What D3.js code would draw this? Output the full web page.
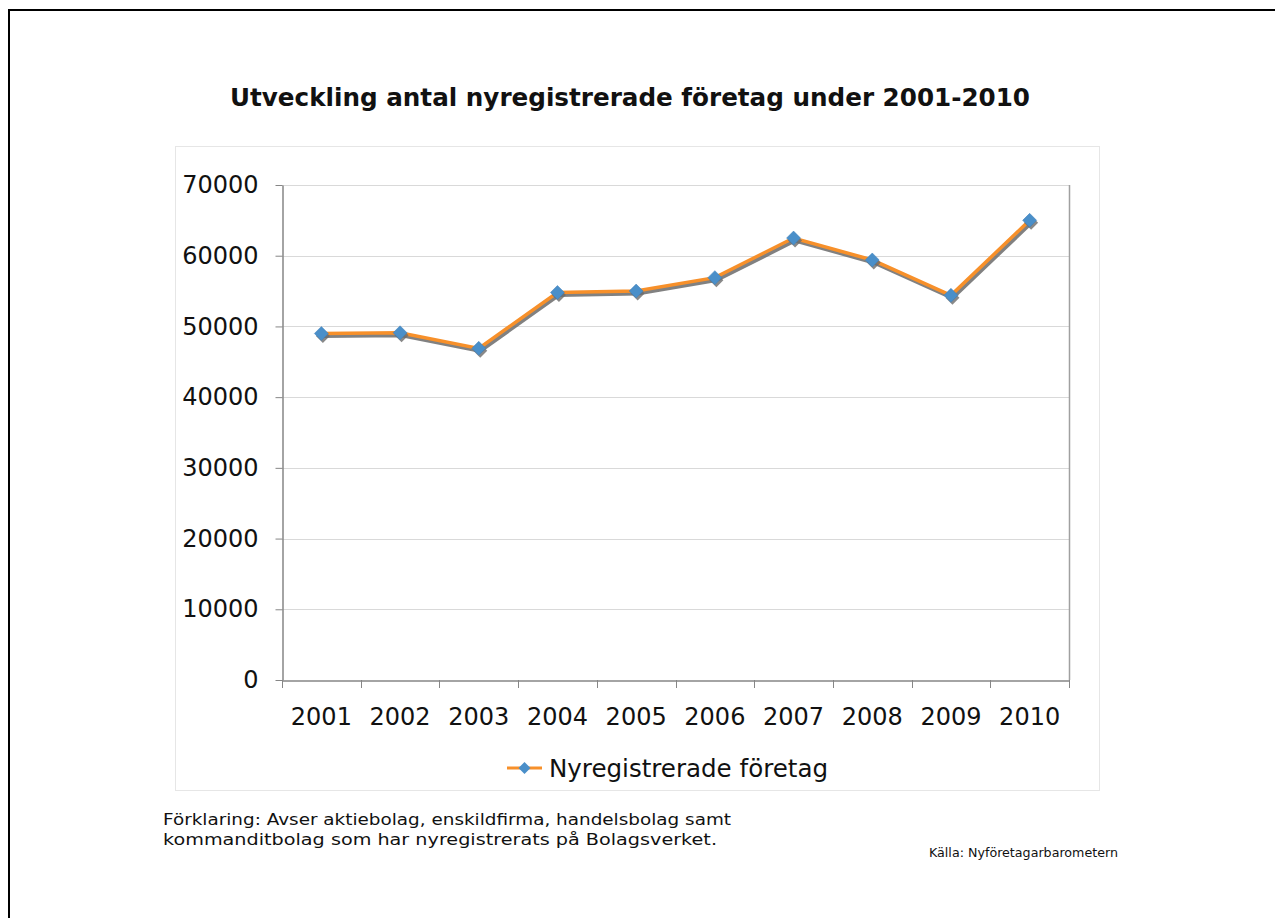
<!DOCTYPE html>
<html><head><meta charset="utf-8">
<script src="https://cdn.jsdelivr.net/npm/d3@7"></script>
<style>body{margin:0;background:#fff;}svg{display:block;font-family:"DejaVu Sans",Verdana,sans-serif;}</style>
</head><body>
<svg id="c" width="1275" height="918"></svg>
<script>
const years = ["2001","2002","2003","2004","2005","2006","2007","2008","2009","2010"];
const values = [49000, 49100, 46900, 54800, 55000, 56900, 62500, 59400, 54400, 65000];
const yTicks = [0,10000,20000,30000,40000,50000,60000,70000];
const seriesName = "Nyregistrerade företag";
const title = "Utveckling antal nyregistrerade företag under 2001-2010";
const note1 = "Förklaring: Avser aktiebolag, enskildfirma, handelsbolag samt";
const note2 = "kommanditbolag som har nyregistrerats på Bolagsverket.";
const source = "Källa: Nyföretagarbarometern";

const svg = d3.select("#c");
// page frame
svg.append("rect").attr("x",9).attr("y",10).attr("width",1300).attr("height",1000)
  .attr("fill","none").attr("stroke","#000").attr("stroke-width",2);
// chart area box
svg.append("rect").attr("x",175.5).attr("y",146.5).attr("width",924).attr("height",644)
  .attr("fill","#fff").attr("stroke","#e6e6e6").attr("stroke-width",1);

svg.append("text").attr("x",630).attr("y",106).attr("text-anchor","middle")
  .attr("font-weight","bold").attr("font-size",24.5).attr("fill","#111")
  .attr("textLength",800).attr("lengthAdjust","spacingAndGlyphs").text(title);

const L=282, R=1069, T=185, B=680;
const x = d3.scaleBand().domain(years).range([L,R]);
const y = d3.scaleLinear().domain([0,70000]).range([B,T]);

// gridlines
svg.append("g").selectAll("line").data(yTicks.filter(d=>d>0)).join("line")
  .attr("x1",L).attr("x2",R).attr("y1",d=>Math.round(y(d))+0.5).attr("y2",d=>Math.round(y(d))+0.5)
  .attr("stroke","#d9d9d9").attr("stroke-width",1);
// right border
svg.append("line").attr("x1",R+0.5).attr("x2",R+0.5).attr("y1",T).attr("y2",B)
  .attr("stroke","#a0a0a0").attr("stroke-width",1.5);

// y axis
const ya = svg.append("g").attr("transform",`translate(${L+0.5},0)`)
  .call(d3.axisLeft(y).tickValues(yTicks).tickFormat(d3.format("d")).tickSize(7).tickSizeOuter(0).tickPadding(17));
ya.select(".domain").attr("stroke","#868686").attr("stroke-width",1.5);
ya.selectAll(".tick line").attr("stroke","#868686");
ya.selectAll(".tick text").attr("font-size",24).attr("fill","#111").attr("font-family","DejaVu Sans, Verdana, sans-serif");

// x axis
const xa = svg.append("g").attr("transform",`translate(0,${B+0.5})`)
  .call(d3.axisBottom(x).tickSize(0).tickPadding(27));
xa.select(".domain").attr("stroke","#868686").attr("stroke-width",1.5);
xa.selectAll(".tick text").attr("font-size",24).attr("fill","#111").attr("font-family","DejaVu Sans, Verdana, sans-serif");
// x tick marks at band boundaries
const bounds = years.map(d=>x(d)).concat([R]);
svg.append("g").selectAll("line").data(bounds).join("line")
  .attr("x1",d=>Math.round(d)+0.5).attr("x2",d=>Math.round(d)+0.5).attr("y1",B).attr("y2",B+8)
  .attr("stroke","#868686").attr("stroke-width",1);

const cx = d=>x(d)+x.bandwidth()/2;
const line = d3.line().x((d,i)=>cx(years[i])).y(d=>y(d));
// shadow
svg.append("path").datum(values).attr("d",line).attr("fill","none")
  .attr("stroke","#6b6b6b").attr("stroke-width",4).attr("transform","translate(1.5,2.5)").attr("opacity",0.85);
svg.append("path").datum(values).attr("d",line).attr("fill","none")
  .attr("stroke","#f7902a").attr("stroke-width",3.5);
const diamond = "M0,-7L7,0L0,7L-7,0Z";
svg.append("g").selectAll("path").data(values).join("path")
  .attr("d",diamond).attr("transform",(d,i)=>`translate(${cx(years[i])+1.5},${y(d)+2.5})`)
  .attr("fill","#6b6b6b").attr("opacity",0.8);
svg.append("g").selectAll("path").data(values).join("path")
  .attr("d",diamond).attr("transform",(d,i)=>`translate(${cx(years[i])},${y(d)})`)
  .attr("fill","#4a8fc9").attr("stroke","#3f7fb8").attr("stroke-width",0.5);

// legend
const lg = svg.append("g");
lg.append("line").attr("x1",507).attr("x2",542).attr("y1",768).attr("y2",768)
  .attr("stroke","#f7902a").attr("stroke-width",3);
lg.append("path").attr("d","M0,-6L6,0L0,6L-6,0Z").attr("transform","translate(524.5,768)").attr("fill","#4a8fc9");
lg.append("text").attr("x",549).attr("y",777).attr("font-size",24).attr("fill","#111")
  .attr("textLength",279).attr("lengthAdjust","spacingAndGlyphs").text(seriesName);

// notes
svg.append("text").attr("x",163).attr("y",825).attr("font-size",16.5).attr("fill","#111")
  .attr("textLength",568).attr("lengthAdjust","spacingAndGlyphs").text(note1);
svg.append("text").attr("x",163).attr("y",845).attr("font-size",16.5).attr("fill","#111")
  .attr("textLength",554).attr("lengthAdjust","spacingAndGlyphs").text(note2);
svg.append("text").attr("x",929).attr("y",857).attr("font-size",12.5).attr("fill","#111")
  .attr("textLength",189).attr("lengthAdjust","spacingAndGlyphs").text(source);
</script>
</body></html>
